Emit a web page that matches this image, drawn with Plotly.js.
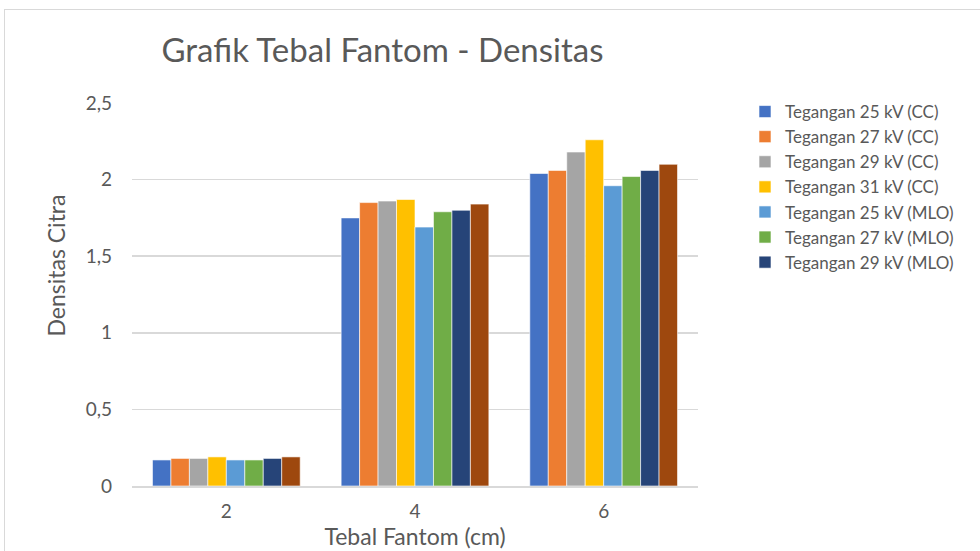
<!DOCTYPE html>
<html>
<head>
<meta charset="utf-8">
<script src="https://cdn.plot.ly/plotly-3.0.1.min.js"></script>
<style>
html,body{margin:0;padding:0;background:#fff;}
#wrap{position:relative;width:980px;height:551px;overflow:hidden;}
#chart{width:980px;height:551px;}
#frame{position:absolute;left:4px;top:9px;width:1000px;height:600px;border:1px solid #d9d9d9;pointer-events:none;box-sizing:border-box;}
</style>
</head>
<body>
<div id="wrap"><div id="chart"></div><div id="frame"></div></div>
<script>
const categories = ["2", "4", "6"];
const seriesNames = [
  "Tegangan 25 kV (CC)",
  "Tegangan 27 kV (CC)",
  "Tegangan 29 kV (CC)",
  "Tegangan 31 kV (CC)",
  "Tegangan 25 kV (MLO)",
  "Tegangan 27 kV (MLO)",
  "Tegangan 29 kV (MLO)",
  "Tegangan 31 kV (MLO)"
];
const v25CC  = [0.17, 1.75, 2.04];
const v27CC  = [0.18, 1.85, 2.06];
const v29CC  = [0.18, 1.86, 2.18];
const v31CC  = [0.19, 1.87, 2.26];
const v25MLO = [0.17, 1.69, 1.96];
const v27MLO = [0.17, 1.79, 2.02];
const v29MLO = [0.18, 1.80, 2.06];
const v31MLO = [0.19, 1.84, 2.10];
const yTickVals = [0, 0.5, 1, 1.5, 2, 2.5];
const yTickText = ["0", "0,5", "1", "1,5", "2", "2,5"];

const seriesValues = [v25CC, v27CC, v29CC, v31CC, v25MLO, v27MLO, v29MLO, v31MLO];
const colors = ["#4472C4", "#ED7D31", "#A5A5A5", "#FFC000", "#5B9BD5", "#70AD47", "#264478", "#9E480E"];
const legendShown = [true, true, true, true, true, true, true, false];

const traces = seriesNames.map((n, i) => ({
  type: "bar",
  name: n,
  x: categories,
  y: seriesValues[i],
  marker: {color: colors[i], line: {color: "#ffffff", width: 0.6}},
  showlegend: legendShown[i],
  hoverinfo: "y+name"
}));

const font = "Lato, Calibri, 'Open Sans', sans-serif";
const W = 980, H = 551;
const L = 131.5, R = 698, T = 103, B = 486;
const layout = {
  width: W, height: H,
  paper_bgcolor: "#ffffff", plot_bgcolor: "#ffffff",
  margin: {l: L, r: W - R, t: T, b: H - B, pad: 0},
  font: {family: font, color: "#595959", size: 20},
  title: {text: "Grafik Tebal Fantom - Densitas", font: {size: 33, color: "#595959", family: font},
          x: 382.5 / W, xanchor: "center", xref: "container", y: 1 - 50 / H, yanchor: "middle", yref: "container"},
  barmode: "group",
  bargap: 0.217,
  bargroupgap: 0,
  xaxis: {
    type: "category",
    showgrid: false,
    showline: true, linecolor: "#d9d9d9", linewidth: 1.5,
    ticks: "",
    ticklabelstandoff: 8,
    tickfont: {size: 19, color: "#595959"},
    title: {text: "Tebal Fantom (cm)", font: {size: 23, color: "#595959"}, standoff: 4}
  },
  yaxis: {
    range: [0, 2.5],
    tickvals: yTickVals, ticktext: yTickText,
    showgrid: true, gridcolor: "#d9d9d9", gridwidth: 1.5,
    zeroline: false,
    showline: false,
    ticks: "", ticklen: 0,
    ticklabelstandoff: 19,
    tickfont: {size: 19, color: "#595959"}
  },
  annotations: [{
    text: "Densitas Citra", textangle: -90,
    xref: "paper", yref: "paper",
    x: (55 - L) / (R - L), y: (B - 266) / (B - T),
    xanchor: "center", yanchor: "middle", showarrow: false,
    font: {size: 23, color: "#595959", family: font}
  }],
  legend: {
    x: 745 / W, xref: "container", xanchor: "left",
    y: 1 - 94 / H, yref: "container", yanchor: "top",
    font: {size: 17, color: "#595959"},
    tracegroupgap: 0,
    itemwidth: 30,
    bgcolor: "rgba(0,0,0,0)"
  }
};

Plotly.newPlot("chart", traces, layout, {displayModeBar: false, staticPlot: true});
</script>
</body>
</html>
